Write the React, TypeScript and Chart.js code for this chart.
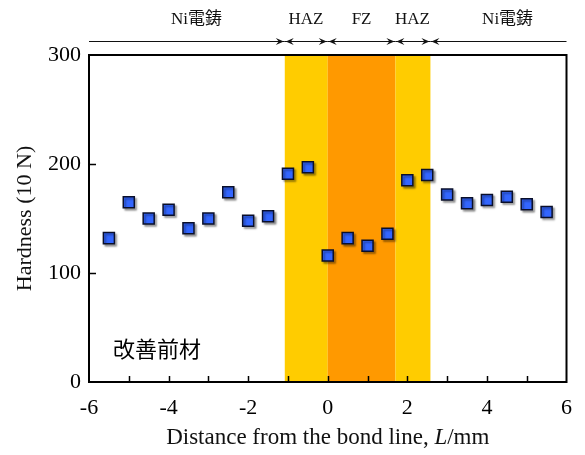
import React, { useEffect, useRef } from "react";
import { Chart, registerables } from "chart.js";

Chart.register(...registerables);

const positions = [-5.5, -5, -4.5, -4, -3.5, -3, -2.5, -2, -1.5, -1, -0.5, 0, 0.5, 1, 1.5, 2, 2.5, 3, 3.5, 4, 4.5, 5, 5.5];
const hardness = [132, 165, 150, 158, 141, 150, 174, 148, 152, 191, 197, 116, 132, 125, 136, 185, 190, 172, 164, 167, 170, 163, 156];

// zone boundaries along the x axis (mm)
const zoneEdges = [-1.08, 0, 1.7, 2.58];
const zoneColors = ["#FFCC00", "#FF9900", "#FFCC00"];
const zoneLabels = ["Ni電鋳", "HAZ", "FZ", "HAZ", "Ni電鋳"];
const zoneLabelX = [-3.3, -0.55, 0.85, 2.13, 4.52];

const xTitleParts = ["Distance from the bond line, ", "L", "/mm"];
const yTitle = "Hardness (10 N)";
const sampleLabel = "改善前材";
const sampleLabelPos = [-5.4, 31];

const SERIF = '"Liberation Serif", "Times New Roman", serif';
const CJK = '"Noto Sans CJK JP", sans-serif';

function arrowHead(ctx: CanvasRenderingContext2D, x: number, y: number, dir: number) {
  // dir = +1 pointing right, -1 pointing left
  const L = 8, H = 3.5, N = 5;
  ctx.beginPath();
  ctx.moveTo(x, y);
  ctx.lineTo(x - dir * L, y - H);
  ctx.lineTo(x - dir * N, y);
  ctx.lineTo(x - dir * L, y + H);
  ctx.closePath();
  ctx.fill();
}

const decorPlugin = {
  id: "decor",
  beforeDatasetsDraw(chart: any) {
    const { ctx, chartArea, scales } = chart;
    const xs = scales.x;
    ctx.save();
    for (let i = 0; i < zoneColors.length; i++) {
      const x0 = xs.getPixelForValue(zoneEdges[i]);
      const x1 = xs.getPixelForValue(zoneEdges[i + 1]);
      ctx.fillStyle = zoneColors[i];
      ctx.fillRect(x0, chartArea.top, x1 - x0, chartArea.bottom - chartArea.top);
    }
    ctx.restore();
  },
  beforeDatasetDraw(chart: any) {
    const ctx = chart.ctx;
    ctx.save();
    ctx.shadowColor = "rgba(0,0,0,0.35)";
    ctx.shadowOffsetX = 2;
    ctx.shadowOffsetY = 2;
    ctx.shadowBlur = 2;
  },
  afterDatasetDraw(chart: any) {
    chart.ctx.restore();
  },
  afterDraw(chart: any) {
    const { ctx, chartArea, scales } = chart;
    const xs = scales.x;
    const ys = scales.y;
    const { left, right, top, bottom } = chartArea;
    ctx.save();
    // frame
    ctx.strokeStyle = "#000";
    ctx.lineWidth = 2;
    ctx.strokeRect(left, top, right - left, bottom - top);
    // inward ticks
    ctx.lineWidth = 1.5;
    ctx.beginPath();
    xs.ticks.forEach((t: any) => {
      const px = Math.round(xs.getPixelForValue(t.value)) + 0.5;
      if (px <= left + 1 || px >= right - 1) return;
      ctx.moveTo(px, bottom);
      ctx.lineTo(px, bottom - 6);
    });
    ys.ticks.forEach((t: any) => {
      const py = Math.round(ys.getPixelForValue(t.value)) + 0.5;
      if (py <= top + 1 || py >= bottom - 1) return;
      ctx.moveTo(left, py);
      ctx.lineTo(left + 7, py);
    });
    ctx.stroke();

    // sample label
    ctx.fillStyle = "#000";
    ctx.font = `22px ${CJK}`;
    ctx.textAlign = "left";
    ctx.textBaseline = "middle";
    ctx.fillText(sampleLabel, xs.getPixelForValue(sampleLabelPos[0]), ys.getPixelForValue(sampleLabelPos[1]));

    // top zone arrows
    const ay = 41.5;
    const bounds = [xs.min, ...zoneEdges, xs.max];
    ctx.lineWidth = 1;
    ctx.strokeStyle = "#111";
    ctx.fillStyle = "#111";
    for (let i = 0; i < bounds.length - 1; i++) {
      const x0 = xs.getPixelForValue(bounds[i]);
      const x1 = xs.getPixelForValue(bounds[i + 1]);
      ctx.beginPath();
      ctx.moveTo(x0, ay);
      ctx.lineTo(x1, ay);
      ctx.stroke();
      if (i > 0) arrowHead(ctx, x0 + 1, ay, -1);
      if (i < bounds.length - 2) arrowHead(ctx, x1 - 1, ay, 1);
    }
    // zone labels
    ctx.textAlign = "center";
    ctx.textBaseline = "middle";
    ctx.font = `17px ${SERIF}, ${CJK}`;
    zoneLabels.forEach((lab, i) => {
      ctx.fillText(lab, xs.getPixelForValue(zoneLabelX[i]), 20);
    });

    // x title with italic L
    const fontN = `23px ${SERIF}`;
    const fontI = `italic 23px ${SERIF}`;
    ctx.font = fontN;
    const w0 = ctx.measureText(xTitleParts[0]).width;
    const w2 = ctx.measureText(xTitleParts[2]).width;
    ctx.font = fontI;
    const w1 = ctx.measureText(xTitleParts[1]).width;
    const total = w0 + w1 + w2;
    let x = (left + right) / 2 - total / 2;
    const ty = 438;
    ctx.textAlign = "left";
    ctx.textBaseline = "middle";
    ctx.font = fontN;
    ctx.fillText(xTitleParts[0], x, ty);
    x += w0;
    ctx.font = fontI;
    ctx.fillText(xTitleParts[1], x, ty);
    x += w1;
    ctx.font = fontN;
    ctx.fillText(xTitleParts[2], x, ty);

    // y title
    ctx.save();
    ctx.translate(25, (top + bottom) / 2);
    ctx.rotate(-Math.PI / 2);
    ctx.textAlign = "center";
    ctx.textBaseline = "middle";
    ctx.font = `22px ${SERIF}`;
    ctx.fillText(yTitle, 0, 0);
    ctx.restore();

    ctx.restore();
  },
};

export default function App() {
  const ref = useRef<HTMLCanvasElement | null>(null);
  useEffect(() => {
    document.body.style.margin = "0";
    const canvas = ref.current!;
    const chart = new Chart(canvas, {
      type: "scatter",
      data: {
        datasets: [
          {
            data: positions.map((p, i) => ({ x: p, y: hardness[i] })),
            pointStyle: "rect",
            pointRadius: 7.8,
            pointHoverRadius: 7.8,
            backgroundColor: "#3366FF",
            borderColor: "#0a0f2a",
            borderWidth: 1.5,
          },
        ],
      },
      options: {
        animation: false,
        responsive: false,
        maintainAspectRatio: false,
        events: [],
        layout: { padding: { top: 55, right: 16, left: 0, bottom: 0 } },
        plugins: { legend: { display: false }, tooltip: { enabled: false } },
        scales: {
          x: {
            type: "linear",
            min: -6,
            max: 6,
            afterFit: (s: any) => { s.height = 73; },
            grid: { display: false, drawTicks: false },
            border: { display: false },
            ticks: {
              stepSize: 1,
              padding: 13,
              color: "#000",
              font: { family: SERIF, size: 22 },
              maxRotation: 0,
              autoSkip: false,
              callback: (v: any) => (Number(v) % 2 === 0 ? String(v) : ""),
            },
          },
          y: {
            min: 0,
            max: 300,
            afterFit: (s: any) => { s.width = 89; },
            grid: { display: false, drawTicks: false },
            border: { display: false },
            ticks: {
              stepSize: 100,
              padding: 8,
              color: "#000",
              font: { family: SERIF, size: 22 },
              callback: (v: any) => String(v),
            },
          },
        },
      },
      plugins: [decorPlugin],
    });
    return () => chart.destroy();
  }, []);
  return <canvas ref={ref} width={585} height={455} style={{ display: "block" }} />;
}
